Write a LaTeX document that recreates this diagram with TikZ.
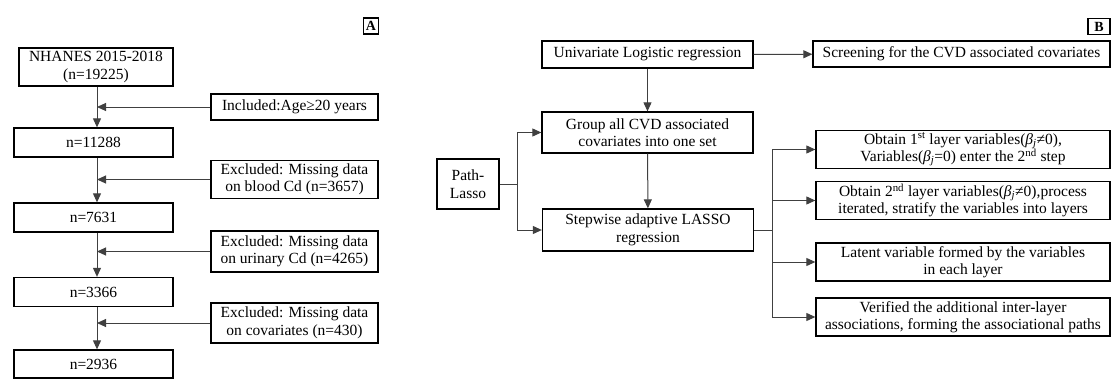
\documentclass[tikz,border=0pt]{standalone}
\usepackage{fontspec}
\setmainfont{Liberation Serif}
\usetikzlibrary{arrows.meta}
\usetikzlibrary{positioning}

\newcommand{\betaj}{\textit{β}\textsubscript{\textit{j}}}

\tikzset{
  box/.style={draw, line width=1.3pt, align=center, inner sep=2pt,
    font=\fontsize{15.5}{17.5}\selectfont},
  arr/.style={-{Triangle[length=9pt,width=8pt]}, draw=black!75, line width=1pt},
  link/.style={draw=black!75, line width=1pt},
  tag/.style={draw, line width=1.3pt, font=\bfseries\fontsize{14}{15}\selectfont,
    minimum width=15pt, minimum height=16pt, inner sep=1pt}
}

\begin{document}
\begin{tikzpicture}[x=1pt, y=-1pt]
            \useasboundingbox (0,0) rectangle (1112,380);
            % Panel A: sample selection
            \node[tag] (tagA) at (371,26) {A};
            \node[box, minimum width=154pt, minimum height=38pt] (nhanes) at (96,67) {NHANES 2015-2018\\(n=19225)};
            \node[box, minimum width=159pt, minimum height=29pt] (n1) at (93.5,142.5) {n=11288};
            \node[box, minimum width=159pt, minimum height=29pt] (n2) at (93.5,217.5) {n=7631};
            \node[box, minimum width=159pt, minimum height=29pt] (n3) at (93.5,292) {n=3366};
            \node[box, minimum width=159pt, minimum height=28pt] (n4) at (93.5,364) {n=2936};
            
            \node[box, minimum width=167pt, minimum height=26pt] (inc) at (294.5,107) {Included:Age≥20 years};
            \node[box, minimum width=167pt, minimum height=38pt] (exblood) at (294.5,179.5) {Excluded: Missing data\\on blood Cd (n=3657)};
            \node[box, minimum width=167pt, minimum height=41pt] (exurine) at (294.5,251.5) {Excluded: Missing data\\on urinary Cd (n=4265)};
            \node[box, minimum width=167pt, minimum height=40pt] (excov) at (294.5,323) {Excluded: Missing data\\on covariates (n=430)};
            
            \coordinate (spine) at (97,0);
            \draw[arr] (nhanes.south -| spine) -- (n1.north -| spine);
            \draw[arr] (n1.south -| spine) -- (n2.north -| spine);
            \draw[arr] (n2.south -| spine) -- (n3.north -| spine);
            \draw[arr] (n3.south -| spine) -- (n4.north -| spine);
            \draw[arr] (inc.west) -- (inc.west -| spine);
            \draw[arr] (exblood.west) -- (exblood.west -| spine);
            \draw[arr] (exurine.west) -- (exurine.west -| spine);
            \draw[arr] (excov.west) -- (excov.west -| spine);
            
            % Panel B: Path-Lasso workflow
            \node[tag, minimum width=22pt] (tagB) at (1099,26.5) {B};
            \node[box, minimum width=211pt, minimum height=27pt] (univ) at (647.5,54.5) {Univariate Logistic regression};
            \node[box, minimum width=297pt, minimum height=26pt] (screen) at (961.5,54) {Screening for the CVD associated covariates};
            \node[box, minimum width=211pt, minimum height=41pt] (group) at (647.5,132.5) {Group all CVD associated\\covariates into one set};
            \node[box, minimum width=211pt, minimum height=42pt] (stepwise) at (648,230) {Stepwise adaptive LASSO\\regression};
            \node[box, minimum width=62pt, minimum height=50pt] (pathlasso) at (468,184) {Path-\\Lasso};
            
            \node[box, minimum width=294pt, minimum height=37pt] (layer1) at (963,149.5) {Obtain 1\textsuperscript{st} layer variables(\betaj≠0),\\Variables(\betaj=0) enter the 2\textsuperscript{nd} step};
            \node[box, minimum width=294pt, minimum height=37pt] (layer2) at (963,200.5) {Obtain 2\textsuperscript{nd} layer variables(\betaj≠0),process\\iterated, stratify the variables into layers};
            \node[box, minimum width=294pt, minimum height=38pt] (latent) at (963,262) {Latent variable formed by the variables\\in each layer};
            \node[box, minimum width=294pt, minimum height=38pt] (verify) at (963,317) {Verified the additional inter-layer\\associations, forming the associational paths};
            
            \draw[arr] (univ) -- (screen);
            \draw[arr] (univ) -- (group);
            \draw[arr] (group) -- (stepwise);
            
            \coordinate (fork) at (517,0);
            \draw[link] (pathlasso.east) -- (pathlasso.east -| fork);
            \draw[arr] (pathlasso.east -| fork) |- (group.west);
            \draw[arr] (pathlasso.east -| fork) |- (stepwise.west);
            
            \coordinate (rail) at (772,0);
            \draw[link] (stepwise.east) -- (stepwise.east -| rail);
            \draw[link] (layer1.west -| rail) -- (verify.west -| rail);
            \foreach \tgt in {layer1,layer2,latent,verify}
              \draw[arr] (\tgt.west -| rail) -- (\tgt.west);
        \end{tikzpicture}
\end{document}
